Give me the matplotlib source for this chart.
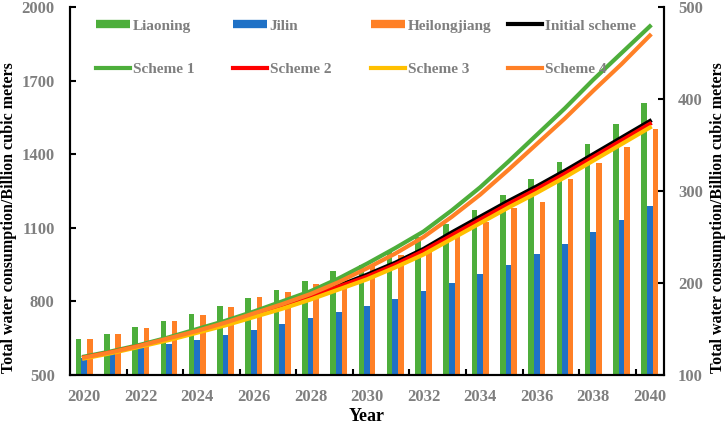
import numpy as np
import matplotlib
matplotlib.use("Agg")
import matplotlib.pyplot as plt
from matplotlib.lines import Line2D

# bar data (left axis)
years = np.arange(2020, 2041)
liaoning = [645, 668, 694, 721, 750, 780, 813, 846, 884, 924, 950,
            1007, 1061, 1114, 1171, 1233, 1298, 1367, 1442, 1523, 1610]
jilin = [570, 586, 609, 625, 643, 662, 683, 707, 731, 756, 783,
         810, 841, 875, 912, 950, 992, 1035, 1082, 1133, 1189]
heilongjiang = [645, 667, 693, 719, 746, 776, 817, 840, 870, 905, 948,
                990, 1016, 1070, 1125, 1180, 1206, 1300, 1363, 1431, 1502]

# scheme lines (right axis)
initial_scheme = [119, 125, 132, 140, 148, 157, 166, 176, 186, 197, 209,
                  222, 237, 255, 272, 289, 305, 322, 340, 358, 376]
scheme1 = [120, 126, 133, 141, 150, 159, 169, 180, 191, 205, 221,
           238, 256, 279, 304, 332, 361, 390, 421, 450, 479]
scheme2 = [119, 125, 132, 139, 147, 156, 165, 175, 185, 196, 207,
           220, 235, 252, 269, 286, 302, 319, 337, 355, 373]
scheme3 = [118, 124, 131, 138, 146, 154, 163, 172, 182, 193, 204,
           217, 231, 248, 265, 282, 298, 315, 333, 351, 369]
scheme4 = [119, 125, 132, 140, 148, 157, 167, 177, 188, 201, 216,
           232, 250, 272, 296, 323, 351, 379, 409, 438, 469]

GREEN = '#4DAE3B'
BLUE = '#1F71C6'
ORANGE = '#FF8026'
GREY = '#7f7f7f'
SERIF = 'Liberation Serif'

fig = plt.figure(figsize=(7.26, 4.25), dpi=100)
ax = fig.add_axes([70 / 726, 1 - 375 / 425, 594 / 726, 368 / 425])
ax2 = ax.twinx()

w = 0.2
ax.bar(years - w, liaoning, w, color=GREEN)
ax.bar(years, jilin, w, color=BLUE)
ax.bar(years + w, heilongjiang, w, color=ORANGE)

lw = 3
ax2.plot(years, initial_scheme, color='black', lw=lw)
ax2.plot(years, scheme1, color=GREEN, lw=lw)
ax2.plot(years, scheme2, color='#FF0000', lw=lw)
ax2.plot(years, scheme3, color='#FFC000', lw=lw)
ax2.plot(years, scheme4, color=ORANGE, lw=lw)

ax.set_xlim(2019.5, 2040.5)
ax.set_ylim(500, 2000)
ax2.set_ylim(100, 500)
ax.set_yticks(np.arange(500, 2001, 300))
ax2.set_yticks(np.arange(100, 501, 100))
ax.set_xticks(np.arange(2020, 2041, 2))
ax.set_xticks(np.arange(2021.5, 2040, 2), minor=True)

tick_font = dict(family=SERIF, weight='bold', size=12)
for a in (ax, ax2):
    for lab in a.get_xticklabels() + a.get_yticklabels():
        lab.set_fontproperties(tick_font)
        lab.set_color(GREY)
    a.spines['top'].set_visible(False)
    for s in ('left', 'right', 'bottom'):
        a.spines[s].set_linewidth(1.5)

ax.tick_params(axis='x', which='major', length=0, pad=10)
ax.tick_params(axis='x', which='minor', length=4, width=1.5, direction='in')
ax.tick_params(axis='y', length=4, width=1.5, direction='in', pad=11)
ax2.tick_params(axis='y', length=4, width=1.5, direction='in', pad=10)

label_font = dict(family=SERIF, weight='bold', size=11.5)
ylab = 'Total water consumption/Billion cubic meters'
ax.set_ylabel(ylab, **label_font)
ax2.set_ylabel(ylab, rotation=90, **label_font)
ax.yaxis.set_label_coords(-0.09, 0.427)
ax2.yaxis.set_label_coords(1.078, 0.427)
ax.set_xlabel('Year', family=SERIF, weight='bold', size=13, va='top')
ax.xaxis.set_label_coords(0.5, -0.09)

# legend, built as four columns to match the spacing in the picture
def bar_handle(c):
    return Line2D([], [], color=c, lw=6, solid_capstyle='butt')

def line_handle(c):
    return Line2D([], [], color=c, lw=lw)

columns = [
    (96, [bar_handle(GREEN), line_handle(GREEN)], ['Liaoning', 'Scheme 1']),
    (233, [bar_handle(BLUE), line_handle('#FF0000')], ['Jilin', 'Scheme 2']),
    (371, [bar_handle(ORANGE), line_handle('#FFC000')], ['Heilongjiang', 'Scheme 3']),
    (508, [line_handle('black'), line_handle(ORANGE)], ['Initial scheme', 'Scheme 4']),
]
for x_px, handles, labels in columns:
    fig.legend(handles, labels, loc='center left',
               bbox_to_anchor=(x_px / 726, 1 - 47.5 / 425),
               bbox_transform=fig.transFigure, frameon=False, borderpad=0,
               borderaxespad=0, handlelength=2.2, handletextpad=0.2,
               labelspacing=1.95, labelcolor=GREY,
               prop=dict(family=SERIF, weight='bold', size=11))

fig.savefig('out.png', dpi=100, facecolor='white')
